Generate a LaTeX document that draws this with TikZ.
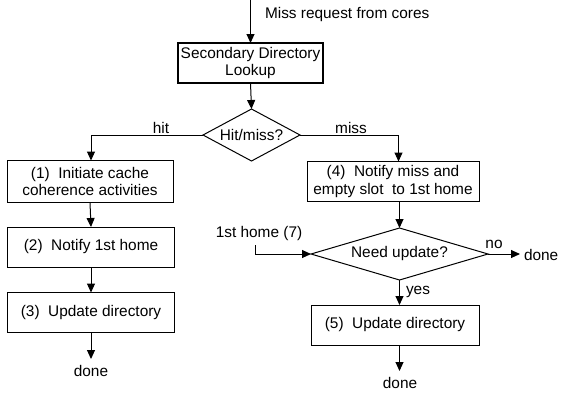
\documentclass[tikz,border=0pt]{standalone}
\usepackage{fontspec}
\setmainfont{Liberation Sans}
\usetikzlibrary{arrows.meta,shapes.geometric}

\begin{document}
\begin{tikzpicture}[
  font=\fontsize{15.4}{17.5}\selectfont,
  every node/.style={inner sep=0pt, outer sep=0pt},
  proc/.style={draw, line width=1pt, align=center, fill=white},
  flow/.style={line width=1pt, -{Stealth[length=9pt,width=8pt,inset=0pt]}},
  lbl/.style={inner sep=1pt}
]
\useasboundingbox (0pt,-394pt) rectangle (564pt,0pt);

% process boxes
\node[proc, line width=1.9pt, minimum width=145pt, minimum height=40pt] (sec) at (250.5pt,-63pt) {Secondary Directory\\Lookup};
\node[proc, minimum width=166pt, minimum height=42pt] (b1) at (90pt,-181.5pt) {(1)\ \ Initiate cache\\coherence activities};
\node[proc, minimum width=167pt, minimum height=40pt] (b2) at (91pt,-247pt) {(2)\ \ Notify 1st home};
\node[proc, minimum width=167pt, minimum height=40pt] (b3) at (91pt,-312.5pt) {(3)\ \ Update directory};
\node[proc, minimum width=172pt, minimum height=40pt] (b4) at (393pt,-181.5pt) {(4)\ \ Notify miss and\\empty slot\ \ to 1st home};
\node[proc, minimum width=168pt, minimum height=40pt] (b5) at (395pt,-325pt) {(5)\ \ Update directory};

% decisions
\node[draw, line width=1pt, diamond, minimum width=97pt, minimum height=52pt] (d1) at (251.5pt,-135pt) {};
\node at (d1) {Hit/miss?};
\node[draw, line width=1pt, diamond, minimum width=177pt, minimum height=52pt] (d2) at (399.5pt,-254pt) {};
\node at (d2) {Need update?};

% free ends and texts
\coordinate (src) at (250.5pt,0pt);
\node[anchor=west] (req) at (265pt,-15pt) {Miss request from cores};
\node (done1) at (91pt,-371pt) {done};
\node (done2) at (400pt,-383pt) {done};
\node[anchor=west] (done3) at (524pt,-255pt) {done};
\node (home7) at (259pt,-234pt) {1st home (7)};
\coordinate (homeStart) at (255pt,-245pt);
\coordinate (hitTurn) at (91pt,-135pt);
\coordinate (missTurn) at (398.5pt,-135pt);
\coordinate (homeTurn) at (255pt,-254pt);
\coordinate (end1) at (91pt,-359pt);
\coordinate (end2) at (399.5pt,-371pt);
\coordinate (end3) at (520pt,-254pt);

% connectors
\draw[flow] (src) -- (sec.north);
\draw[flow] (sec.south) -- (d1.north);
\draw[flow] (d1.west) -- (hitTurn) -- (b1.north -| hitTurn);
\draw[flow] (d1.east) -- (missTurn) -- (b4.north -| missTurn);
\draw[flow] (b1.south) -- (b2.north);
\draw[flow] (b2.south) -- (b3.north);
\draw[flow] (b3.south) -- (end1);
\draw[flow] (b4.south -| d2.north) -- (d2.north);
\draw[flow] (homeStart) -- (homeTurn) -- (d2.west);
\draw[flow] (d2.east) -- (end3);
\draw[flow] (d2.south) -- (b5.north -| d2.south);
\draw[flow] (b5.south -| end2) -- (end2);

% branch labels
\node[lbl] (hitL) at (161pt,-128pt) {hit};
\node[lbl] (missL) at (351pt,-128pt) {miss};
\node[lbl] (noL) at (494pt,-244pt) {no};
\node[lbl] (yesL) at (418pt,-292pt) {yes};
\end{tikzpicture}
\end{document}
